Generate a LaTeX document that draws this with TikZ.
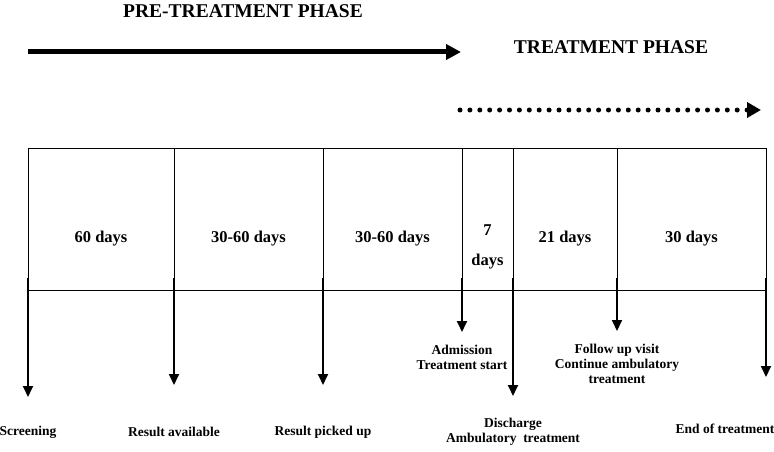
\documentclass[tikz,border=0pt]{standalone}
\usepackage{fontspec}
\setmainfont{Liberation Serif}
\usetikzlibrary{arrows.meta}

\begin{document}
\begin{tikzpicture}[x=1pt,y=1pt,
        font=\bfseries\fontsize{13.5}{15}\selectfont,
        cell/.style={draw,line width=0.8pt,minimum height=142pt,inner sep=0pt,
          outer sep=0pt,anchor=north west},
        span/.style={align=center,inner sep=0pt,
          font=\bfseries\fontsize{16.5}{20}\selectfont},
        event/.style={-{Triangle[width=10pt,length=11pt]},line width=1.8pt,
          shorten <=-12pt},
        lbl/.style={align=center,inner sep=0pt},
        phase/.style={font=\bfseries\fontsize{19.5}{22}\selectfont,inner sep=0pt}]
      \useasboundingbox (0,0) rectangle (774,-452);

      % phases
      \node[phase] (pre) at (243,-11) {PRE-TREATMENT PHASE};
      \node[phase] (trt) at (611,-47) {TREATMENT PHASE};
      \coordinate (preA) at (28,-52);
      \coordinate (preB) at (461,-52);
      \coordinate (trtA) at (460,-110);
      \coordinate (trtB) at (761,-110);
      \draw[line width=5pt,-{Triangle[width=15pt,length=15pt]}] (preA) -- (preB);
      \draw[line width=5pt,line cap=round,dash pattern=on 0pt off 9.9pt,
        -{Triangle[width=15pt,length=14pt]}] (trtA) -- (trtB);

      % time periods
      \node[cell,minimum width=146pt] (c1) at (28,-148) {};
      \node[cell,minimum width=149pt] (c2) at (c1.north east) {};
      \node[cell,minimum width=139pt] (c3) at (c2.north east) {};
      \node[cell,minimum width=51pt] (c4) at (c3.north east) {};
      \node[cell,minimum width=104pt] (c5) at (c4.north east) {};
      \node[cell,minimum width=149pt] (c6) at (c5.north east) {};
      \node[span] (d1) at ([yshift=-20pt]c1.center) {60 days};
      \node[span] (d2) at ([yshift=-20pt]c2.center) {30-60 days};
      \node[span] (d3) at ([yshift=-20pt]c3.center) {30-60 days};
      \node[span] (d4) at ([yshift=-28pt]c4.center) {7\\[10pt]days};
      \node[span] (d5) at ([yshift=-20pt]c5.center) {21 days};
      \node[span] (d6) at ([yshift=-20pt]c6.center) {30 days};

      % events
      \coordinate (t1) at (28,-397);
      \coordinate (t2) at (174,-385);
      \coordinate (t3) at (323,-385);
      \coordinate (t4) at (462,-332);
      \coordinate (t5) at (513,-396);
      \coordinate (t6) at (617,-331);
      \coordinate (t7) at (766,-377);
      \node[lbl] (screen) at (28,-432) {Screening};
      \node[lbl] (avail) at (174,-432) {Result available};
      \node[lbl] (picked) at (323,-432) {Result picked up};
      \node[lbl] (admit) at (462,-357) {Admission\\Treatment start};
      \node[lbl] (disch) at (513,-432) {Discharge\\Ambulatory\ \ treatment};
      \node[lbl] (follow) at (617,-364) {Follow up visit\\Continue ambulatory\\treatment};
      \node[lbl] (endt) at (725,-429) {End of treatment};

      \draw[event] (c1.south west) -- (t1);
      \draw[event] (c2.south west) -- (t2);
      \draw[event] (c3.south west) -- (t3);
      \draw[event] (c4.south west) -- (t4);
      \draw[event] (c5.south west) -- (t5);
      \draw[event] (c6.south west) -- (t6);
      \draw[event] (c6.south east) -- (t7);
\end{tikzpicture}
\end{document}
